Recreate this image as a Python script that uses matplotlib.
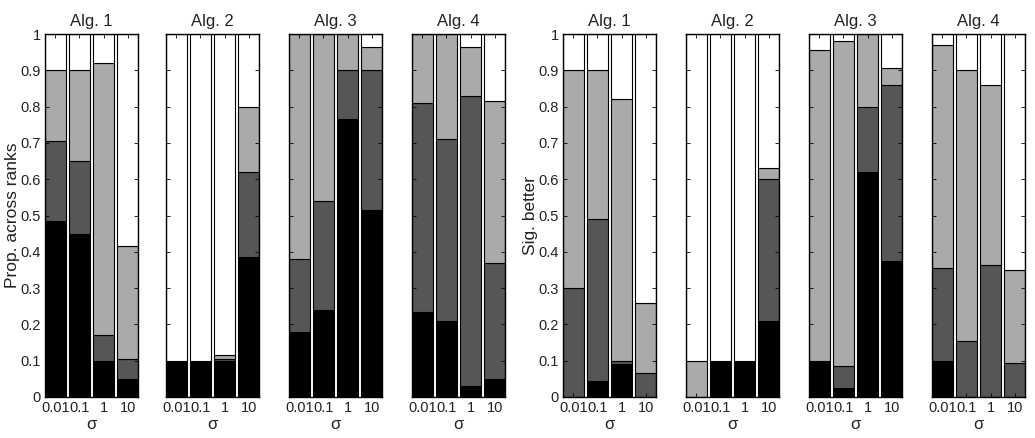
import matplotlib
matplotlib.use("Agg")
import matplotlib.pyplot as plt
import numpy as np

plt.rcParams['font.family'] = ['Liberation Sans', 'DejaVu Sans']

sigma_labels = ["0.01", "0.1", "1", "10"]
alg_titles = ["Alg. 1", "Alg. 2", "Alg. 3", "Alg. 4"]
ytick_vals = [0, 0.1, 0.2, 0.3, 0.4, 0.5, 0.6, 0.7, 0.8, 0.9, 1]
ytick_labels = ["0", "0.1", "0.2", "0.3", "0.4", "0.5", "0.6", "0.7", "0.8", "0.9", "1"]

# Left group: proportion across ranks (rows = Alg. 1..4, columns = sigma)
rank_black = [[0.485, 0.45, 0.10, 0.05],
              [0.10, 0.10, 0.10, 0.385],
              [0.18, 0.24, 0.765, 0.515],
              [0.235, 0.21, 0.03, 0.05]]
rank_dark = [[0.22, 0.20, 0.07, 0.055],
             [0.0, 0.0, 0.005, 0.235],
             [0.20, 0.30, 0.135, 0.385],
             [0.575, 0.50, 0.80, 0.32]]
rank_light = [[0.195, 0.25, 0.75, 0.31],
              [0.0, 0.0, 0.01, 0.18],
              [0.62, 0.46, 0.10, 0.065],
              [0.19, 0.29, 0.135, 0.445]]
rank_white = [[0.10, 0.10, 0.08, 0.585],
              [0.90, 0.90, 0.885, 0.20],
              [0.0, 0.0, 0.0, 0.035],
              [0.0, 0.0, 0.035, 0.185]]

# Right group: significantly better
sig_black = [[0.0, 0.045, 0.09, 0.0],
             [0.0, 0.10, 0.10, 0.21],
             [0.10, 0.025, 0.62, 0.375],
             [0.10, 0.0, 0.0, 0.0]]
sig_dark = [[0.30, 0.445, 0.01, 0.065],
            [0.0, 0.0, 0.0, 0.39],
            [0.0, 0.06, 0.18, 0.485],
            [0.255, 0.155, 0.365, 0.095]]
sig_light = [[0.60, 0.41, 0.72, 0.195],
             [0.10, 0.0, 0.0, 0.03],
             [0.855, 0.895, 0.20, 0.045],
             [0.615, 0.745, 0.495, 0.255]]
sig_white = [[0.10, 0.10, 0.18, 0.74],
             [0.90, 0.90, 0.90, 0.37],
             [0.045, 0.02, 0.0, 0.095],
             [0.03, 0.10, 0.14, 0.65]]

layer_colors = ["#000000", "#565656", "#aaaaaa", "#ffffff"]

fig = plt.figure(figsize=(10.35, 4.38), dpi=100)
W, H = 1035.0, 438.0
bottom_px, top_px = 397.0, 34.0
panel_lefts = [45, 166, 289, 412, 563, 686, 809, 932]
panel_w = 93.0

groups = [
    (rank_black, rank_dark, rank_light, rank_white, "Prop. across ranks"),
    (sig_black, sig_dark, sig_light, sig_white, "Sig. better"),
]

x = np.arange(1, 5)
bw = 0.85
txt_col = "#222222"
for g, (lb, ld, ll, lw_, ylab) in enumerate(groups):
    for a in range(4):
        left = panel_lefts[g * 4 + a]
        ax = fig.add_axes([left / W, 1 - bottom_px / H, panel_w / W, (bottom_px - top_px) / H])
        layers = [np.array(lb[a]), np.array(ld[a]), np.array(ll[a]), np.array(lw_[a])]
        base = np.zeros(4)
        for vals, col in zip(layers, layer_colors):
            ax.bar(x, vals, bw, bottom=base, color=col, edgecolor="black", linewidth=0.8)
            base = base + vals
        ax.set_xlim(1 - bw / 2, 4 + bw / 2)
        ax.set_ylim(0, 1)
        ax.set_xticks(x)
        ax.set_xticklabels(sigma_labels, fontsize=10.5, color=txt_col)
        ax.set_yticks(ytick_vals)
        if a == 0:
            ax.set_yticklabels(ytick_labels, fontsize=10.5, color=txt_col)
            ax.set_ylabel(ylab, fontsize=12.5, labelpad=0, color=txt_col)
        else:
            ax.set_yticklabels([])
        ax.tick_params(direction="in", length=3, width=0.6, top=True, right=True, pad=3)
        ax.set_title(alg_titles[a], fontsize=12, pad=6, color=txt_col)
        ax.set_xlabel("σ", fontsize=12, labelpad=1, color=txt_col)
        for s in ax.spines.values():
            s.set_linewidth(1.0)
        ax.set_axisbelow(False)

fig.savefig("out.png", dpi=100)
